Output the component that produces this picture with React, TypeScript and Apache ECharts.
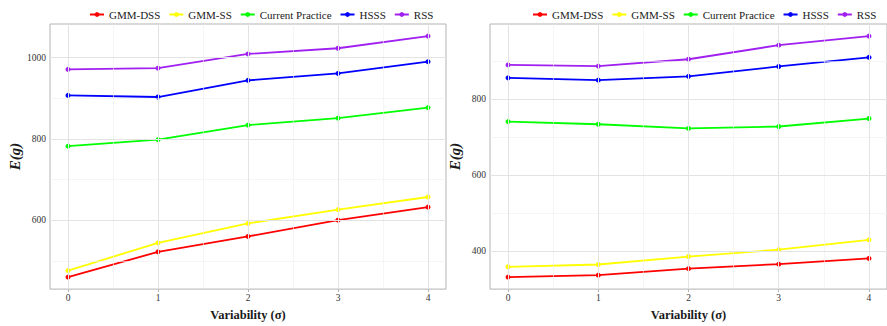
import React, { useEffect, useRef } from "react";
import * as echarts from "echarts";

const variability = [0, 1, 2, 3, 4];
const seriesNames = ["GMM-DSS", "GMM-SS", "Current Practice", "HSSS", "RSS"];
const seriesColors = ["#FF0000", "#FFFF00", "#00FF00", "#0000FF", "#A020F0"];

const leftGmmDss = [460, 522, 560, 600, 632];
const leftGmmSs = [476, 544, 592, 626, 657];
const leftCurrent = [782, 798, 834, 851, 877];
const leftHsss = [907, 903, 944, 961, 990];
const leftRss = [971, 974, 1009, 1023, 1053];

const rightGmmDss = [332, 337, 354, 366, 381];
const rightGmmSs = [359, 365, 386, 404, 430];
const rightCurrent = [741, 734, 723, 728, 749];
const rightHsss = [856, 850, 860, 886, 910];
const rightRss = [890, 887, 905, 942, 966];

const xTicks = [0, 1, 2, 3, 4];
const xMinorGrid = [0.5, 1.5, 2.5, 3.5];
const leftYTicks = [600, 800, 1000];
const leftYMinor = [500, 700, 900];
const rightYTicks = [400, 600, 800];
const rightYMinor = [500, 700, 900];

const FONT = "'Liberation Serif', 'Times New Roman', Times, serif";
const BORDER = "#B3B3B3";
const GRID_MAJOR = "#E3E3E3";
const GRID_MINOR = "#EFEFEF";

function expand(vals: number[][]) {
  const all = vals.flat();
  const lo = Math.min(...all);
  const hi = Math.max(...all);
  const pad = (hi - lo) * 0.05;
  return [lo - pad, hi + pad];
}

export default function App() {
  const ref = useRef<HTMLDivElement>(null);
  useEffect(() => {
    if (!ref.current) return;
    const chart = echarts.init(ref.current, undefined, { renderer: "svg" });
    const leftData = [leftGmmDss, leftGmmSs, leftCurrent, leftHsss, leftRss];
    const rightData = [rightGmmDss, rightGmmSs, rightCurrent, rightHsss, rightRss];
    const [lLo, lHi] = expand(leftData);
    const [rLo, rHi] = expand(rightData);

    const labelStyle = {
      fontFamily: FONT,
      fontSize: 9.5,
      color: "#333",
      margin: 4,
      formatter: (v: number) => String(Math.round(v)),
    };

    const xAxisCfg = (gridIndex: number) => ({
      type: "value",
      gridIndex,
      min: -0.2,
      max: 4.2,
      name: "Variability (σ)",
      nameLocation: "middle",
      nameGap: 13,
      nameTextStyle: { fontFamily: FONT, fontWeight: "bold", fontSize: 12.5, color: "#1a1a1a" },
      axisLine: { show: false },
      axisTick: { show: true, length: 3, customValues: xTicks, lineStyle: { color: BORDER } },
      axisLabel: { ...labelStyle, customValues: xTicks },
      splitLine: { show: false },
    });
    const yAxisCfg = (gridIndex: number, lo: number, hi: number, ticks: number[]) => ({
      type: "value",
      gridIndex,
      min: lo,
      max: hi,
      name: "E(g)",
      nameLocation: "middle",
      nameGap: 28,
      nameTextStyle: { fontFamily: FONT, fontWeight: "bold", fontStyle: "italic", fontSize: 15, color: "#1a1a1a" },
      axisLine: { show: false },
      axisTick: { show: true, length: 3, customValues: ticks, lineStyle: { color: BORDER } },
      axisLabel: { ...labelStyle, customValues: ticks },
      splitLine: { show: false },
    });

    const gridSeries = (idx: number, lo: number, yMajor: number[], yMinor: number[]) => ({
      type: "line",
      name: "__grid" + idx,
      xAxisIndex: idx,
      yAxisIndex: idx,
      data: [[0, lo]],
      symbol: "none",
      lineStyle: { opacity: 0 },
      z: 1,
      silent: true,
      markLine: {
        silent: true,
        symbol: ["none", "none"],
        label: { show: false },
        animation: false,
        data: [
          ...xMinorGrid.map((v) => ({ xAxis: v, lineStyle: { color: GRID_MINOR, width: 0.6, type: "solid" } })),
          ...yMinor.map((v) => ({ yAxis: v, lineStyle: { color: GRID_MINOR, width: 0.6, type: "solid" } })),
          ...xTicks.map((v) => ({ xAxis: v, lineStyle: { color: GRID_MAJOR, width: 1, type: "solid" } })),
          ...yMajor.map((v) => ({ yAxis: v, lineStyle: { color: GRID_MAJOR, width: 1, type: "solid" } })),
        ],
      },
    });

    const dataSeries = (idx: number, data: number[][]) =>
      data.map((vals, i) => ({
        type: "line",
        name: seriesNames[i],
        xAxisIndex: idx,
        yAxisIndex: idx,
        data: variability.map((x, j) => [x, vals[j]]),
        symbol: "circle",
        symbolSize: 5,
        color: seriesColors[i],
        lineStyle: { width: 1.8, color: seriesColors[i] },
        itemStyle: { color: seriesColors[i] },
        z: 3,
      }));

    const legendCfg = (left: number) => ({
      left,
      top: 4,
      data: seriesNames,
      itemWidth: 14,
      itemHeight: 6,
      itemGap: 8,
      textStyle: { fontFamily: FONT, fontSize: 11, color: "#1a1a1a" },
    });

    chart.setOption({
      animation: false,
      textStyle: { fontFamily: FONT },
      legend: [legendCfg(84), legendCfg(527)],
      grid: [
        { left: 50, top: 24, width: 396, height: 270, show: true, borderColor: BORDER, borderWidth: 1, backgroundColor: "transparent" },
        { left: 490, top: 24, width: 402, height: 270, show: true, borderColor: BORDER, borderWidth: 1, backgroundColor: "transparent" },
      ],
      xAxis: [xAxisCfg(0), xAxisCfg(1)],
      yAxis: [yAxisCfg(0, lLo, lHi, leftYTicks), yAxisCfg(1, rLo, rHi, rightYTicks)],
      series: [
        gridSeries(0, lLo, leftYTicks, leftYMinor),
        gridSeries(1, rLo, rightYTicks, rightYMinor),
        ...dataSeries(0, leftData),
        ...dataSeries(1, rightData),
      ],
    });
    return () => chart.dispose();
  }, []);
  return (
    <div
      ref={ref}
      style={{ position: "absolute", left: 0, top: 0, width: 887, height: 326, background: "#fff" }}
    />
  );
}
